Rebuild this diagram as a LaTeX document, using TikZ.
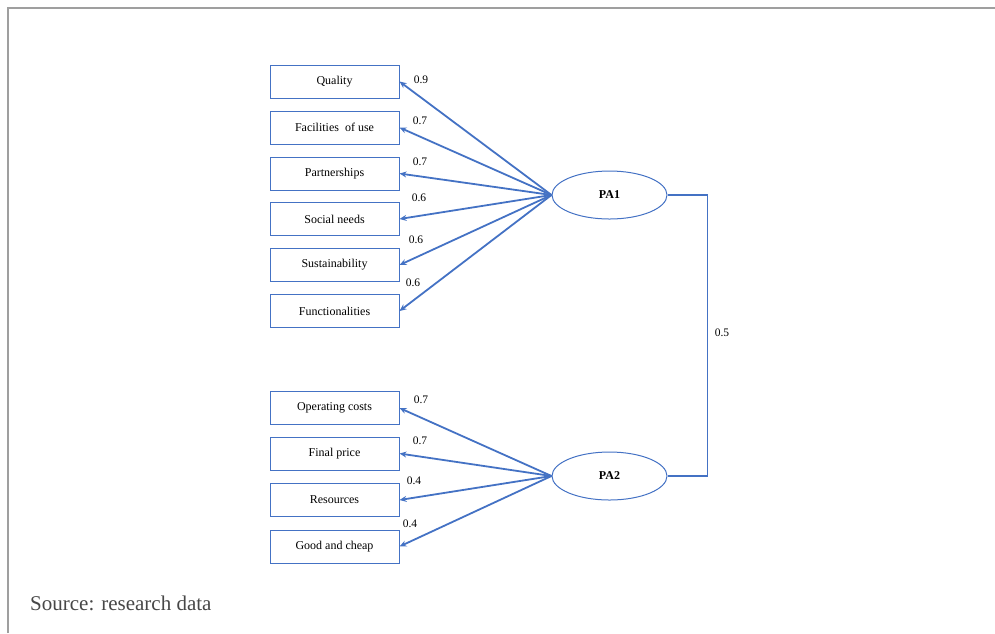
\documentclass[tikz,border=0pt]{standalone}
\usepackage{fontspec}
\setmainfont{Liberation Serif}
\usepackage{xcolor}
\usetikzlibrary{shapes.geometric, arrows.meta}
\definecolor{azul}{HTML}{4472C4}

\tikzset{
    caixa/.style={draw=azul, line width=1pt, minimum width=129pt, minimum height=33pt,
        inner sep=0pt, font=\fontsize{12}{14}\selectfont},
    fator/.style={ellipse, draw=azul, line width=1pt, minimum width=115pt, minimum height=48pt,
        inner sep=0pt, font=\fontsize{12}{14}\selectfont\bfseries},
    carga/.style={azul, line width=1.8pt, -{Stealth[length=7pt,width=6pt]}},
    peso/.style={font=\fontsize{11.5}{13}\selectfont}
}

\begin{document}
\begin{tikzpicture}[x=1pt, y=-1pt]
    \useasboundingbox (0,0) rectangle (995,633);
    % Moldura
    \draw[gray!75, line width=1.5pt] (8,633) -- (8,8) -- (995,8);

    % Fator PA1
    \node[caixa] (quality) at (334.5,81.5) {Quality};
    \node[caixa] (facilities) at (334.5,127.5) {Facilities\ \ of use};
    \node[caixa] (partnerships) at (334.5,173.5) {Partnerships};
    \node[caixa] (social) at (334.5,219) {Social needs};
    \node[caixa] (sustainability) at (334.5,265) {Sustainability};
    \node[caixa] (functionalities) at (334.5,311) {Functionalities};
    \node[fator] (pa1) at (609.5,195) {PA1};

    \draw[carga] (pa1.west) -- (quality.east);
    \draw[carga] (pa1.west) -- (facilities.east);
    \draw[carga] (pa1.west) -- (partnerships.east);
    \draw[carga] (pa1.west) -- (social.east);
    \draw[carga] (pa1.west) -- (sustainability.east);
    \draw[carga] (pa1.west) -- (functionalities.east);

    \node[peso] (p1) at (421,80) {0.9};
    \node[peso] (p2) at (420,121) {0.7};
    \node[peso] (p3) at (420,162) {0.7};
    \node[peso] (p4) at (419,198) {0.6};
    \node[peso] (p5) at (416,240) {0.6};
    \node[peso] (p6) at (413,283) {0.6};

    % Fator PA2
    \node[caixa] (operating) at (334.5,408) {Operating costs};
    \node[caixa] (final) at (334.5,453.5) {Final price};
    \node[caixa] (resources) at (334.5,500) {Resources};
    \node[caixa] (good) at (334.5,546.5) {Good and cheap};
    \node[fator] (pa2) at (609.5,476) {PA2};

    \draw[carga] (pa2.west) -- (operating.east);
    \draw[carga] (pa2.west) -- (final.east);
    \draw[carga] (pa2.west) -- (resources.east);
    \draw[carga] (pa2.west) -- (good.east);

    \node[peso] (p7) at (421,400) {0.7};
    \node[peso] (p8) at (420,441) {0.7};
    \node[peso] (p9) at (414,481) {0.4};
    \node[peso] (p10) at (410,524) {0.4};

    % Correlacao
    \draw[azul, line width=1.8pt] (pa1.east) -- ++(40,0) |- (pa2.east);
    \node[peso] (corr) at (722,333) {0.5};

    % Fonte
    \node[anchor=base west, inner sep=0pt, text=black!72, font=\fontsize{21}{24}\selectfont]
        (fonte) at (30,610) {Source: research data};
\end{tikzpicture}
\end{document}
